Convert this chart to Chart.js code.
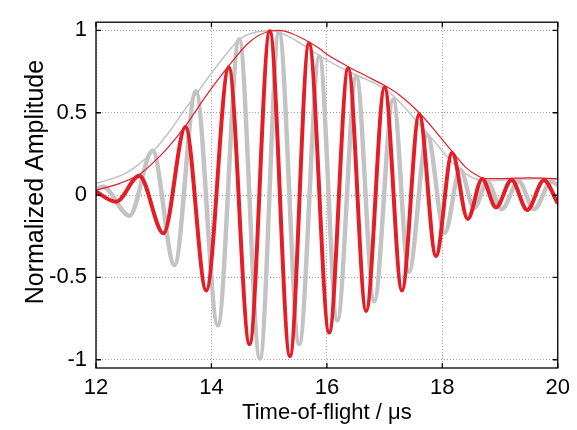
<!DOCTYPE html>
<html lang="en">
<head>
    <meta charset="UTF-8">
    <title>Normalized Amplitude vs Time-of-flight</title>
    <script src="https://cdn.jsdelivr.net/npm/chart.js@4.4.0/dist/chart.umd.min.js"></script>
    <style>
        html, body { margin: 0; padding: 0; background: #fff; }
        #wave { display: block; }
    </style>
</head>
<body>
    <canvas id="wave" width="577" height="430"></canvas>

    <script>
        // axis ticks
        var xTicks = [12, 14, 16, 18, 20];
        var yTicks = [-1, -0.5, 0, 0.5, 1];

        // red signal: start, peaks/troughs, end
        var redTimes = [12.0, 12.35, 12.75, 13.17, 13.55, 13.91, 14.30, 14.66, 15.01, 15.36, 15.69, 16.04,
                        16.37, 16.68, 17.00, 17.30, 17.60, 17.89, 18.17, 18.44, 18.69, 18.93, 19.20, 19.47, 19.76, 20.0];
        var redAmps  = [0.02, -0.04, 0.118, -0.232, 0.414, -0.58, 0.775, -0.905, 0.995, -0.978, 0.92, -0.835,
                        0.77, -0.705, 0.655, -0.58, 0.49, -0.37, 0.255, -0.145, 0.098, -0.075, 0.092, -0.09, 0.09, -0.05];

        // grey signal
        var greyTimes = [12.0, 12.12, 12.58, 12.98, 13.36, 13.73, 14.11, 14.48, 14.84, 15.17, 15.52, 15.87,
                         16.18, 16.51, 16.82, 17.15, 17.42, 17.74, 18.04, 18.31, 18.55, 18.78, 19.03, 19.32, 19.59, 19.89, 20.0];
        var greyAmps  = [0.035, 0.05, -0.125, 0.27, -0.425, 0.63, -0.79, 0.945, -0.992, 0.99, -0.905, 0.84,
                         -0.76, 0.72, -0.645, 0.58, -0.465, 0.365, -0.23, 0.155, -0.08, 0.08, -0.085, 0.085, -0.085, 0.082, 0.06];

        // envelopes
        var redEnvTimes = [12.0, 12.4, 12.75, 13.0, 13.25, 13.55, 13.9, 14.3, 14.66, 15.0, 15.17, 15.4, 15.69, 15.87,
                           16.0, 16.37, 16.7, 17.0, 17.25, 17.6, 17.9, 18.17, 18.4, 18.6, 18.75, 19.0, 19.5, 20.0];
        var redEnvAmps  = [0.03, 0.07, 0.125, 0.2, 0.29, 0.42, 0.6, 0.785, 0.93, 0.995, 1.0, 0.98, 0.93, 0.89,
                           0.855, 0.78, 0.72, 0.665, 0.61, 0.5, 0.38, 0.265, 0.17, 0.12, 0.1, 0.1, 0.105, 0.1];

        var greyEnvTimes = [12.0, 12.5, 12.75, 13.0, 13.27, 13.5, 13.79, 14.0, 14.31, 14.5, 14.77, 15.05, 15.3, 15.55,
                            15.81, 16.1, 16.44, 16.7, 17.02, 17.3, 17.6, 17.9, 18.17, 18.4, 18.58, 18.8, 19.2, 19.6, 20.0];
        var greyEnvAmps  = [0.07, 0.13, 0.19, 0.27, 0.385, 0.5, 0.64, 0.74, 0.88, 0.95, 0.99, 1.0, 0.97, 0.92,
                            0.86, 0.8, 0.74, 0.7, 0.64, 0.55, 0.43, 0.31, 0.2, 0.13, 0.098, 0.088, 0.095, 0.1, 0.095];

        var RED = "#e41e26";
        var GREY = "#c3c3c3";
        var FAMILY = "'Liberation Sans', Arial, sans-serif";

        function pts(xs, ys) {
            return xs.map(function (x, i) { return { x: x, y: ys[i] }; });
        }

        // box round the axes with inward tick marks, matlab style, plus the y label
        var frame = {
            id: "frame",
            afterDraw: function (chart) {
                var ctx = chart.ctx, a = chart.chartArea;
                var x = chart.scales.x, y = chart.scales.y;
                ctx.save();
                ctx.strokeStyle = "#000";
                ctx.lineWidth = 1.3;
                ctx.strokeRect(a.left, a.top, a.right - a.left, a.bottom - a.top);
                ctx.beginPath();
                xTicks.forEach(function (v) {
                    var p = x.getPixelForValue(v);
                    ctx.moveTo(p, a.bottom); ctx.lineTo(p, a.bottom - 5);
                    ctx.moveTo(p, a.top); ctx.lineTo(p, a.top + 5);
                });
                yTicks.forEach(function (v) {
                    var p = y.getPixelForValue(v);
                    ctx.moveTo(a.left, p); ctx.lineTo(a.left + 5, p);
                    ctx.moveTo(a.right, p); ctx.lineTo(a.right - 5, p);
                });
                ctx.stroke();

                // y label sits a bit above the axes centre in the original
                ctx.translate(36, (a.top + a.bottom) / 2 - 13);
                ctx.rotate(-Math.PI / 2);
                ctx.fillStyle = "#000";
                ctx.font = "25px " + FAMILY;
                ctx.textAlign = "center";
                ctx.textBaseline = "middle";
                ctx.fillText("Normalized Amplitude", 0, 0);
                ctx.restore();
            }
        };

        new Chart(document.getElementById("wave"), {
            type: "line",
            data: {
                datasets: [
                    { data: pts(redEnvTimes, redEnvAmps), borderColor: RED, borderWidth: 1.2, order: 1 },
                    { data: pts(redTimes, redAmps), borderColor: RED, borderWidth: 4, order: 2 },
                    { data: pts(greyEnvTimes, greyEnvAmps), borderColor: GREY, borderWidth: 1.5, order: 3 },
                    { data: pts(greyTimes, greyAmps), borderColor: GREY, borderWidth: 4.5, order: 4 }
                ]
            },
            options: {
                responsive: false,
                animation: false,
                layout: { padding: { left: 0, right: 18, top: 14, bottom: 0 } },
                elements: {
                    point: { radius: 0 },
                    line: { cubicInterpolationMode: "monotone", fill: false }
                },
                plugins: { legend: { display: false }, tooltip: { enabled: false } },
                scales: {
                    x: {
                        type: "linear",
                        min: 12,
                        max: 20,
                        afterFit: function (s) { s.height = 62; },
                        afterBuildTicks: function (s) { s.ticks = xTicks.map(function (v) { return { value: v }; }); },
                        grid: { color: "#9a9a9a", drawTicks: false },
                        border: { display: false, dash: [1, 2] },
                        ticks: { color: "#000", padding: 7, maxRotation: 0, font: { family: FAMILY, size: 22 },
                                 callback: function (v) { return String(v); } },
                        title: { display: true, text: "Time-of-flight / \u03bcs", color: "#000",
                                 font: { family: FAMILY, size: 22 }, padding: { top: 0, bottom: 4 } }
                    },
                    y: {
                        min: -1.05,
                        max: 1.05,
                        afterFit: function (s) { s.width = 96; },
                        afterBuildTicks: function (s) { s.ticks = yTicks.map(function (v) { return { value: v }; }); },
                        grid: { color: "#9a9a9a", drawTicks: false },
                        border: { display: false, dash: [1, 2] },
                        ticks: { color: "#000", padding: 9, font: { family: FAMILY, size: 22 },
                                 callback: function (v) { return String(v); } }
                    }
                }
            },
            plugins: [frame]
        });
    </script>
</body>
</html>
